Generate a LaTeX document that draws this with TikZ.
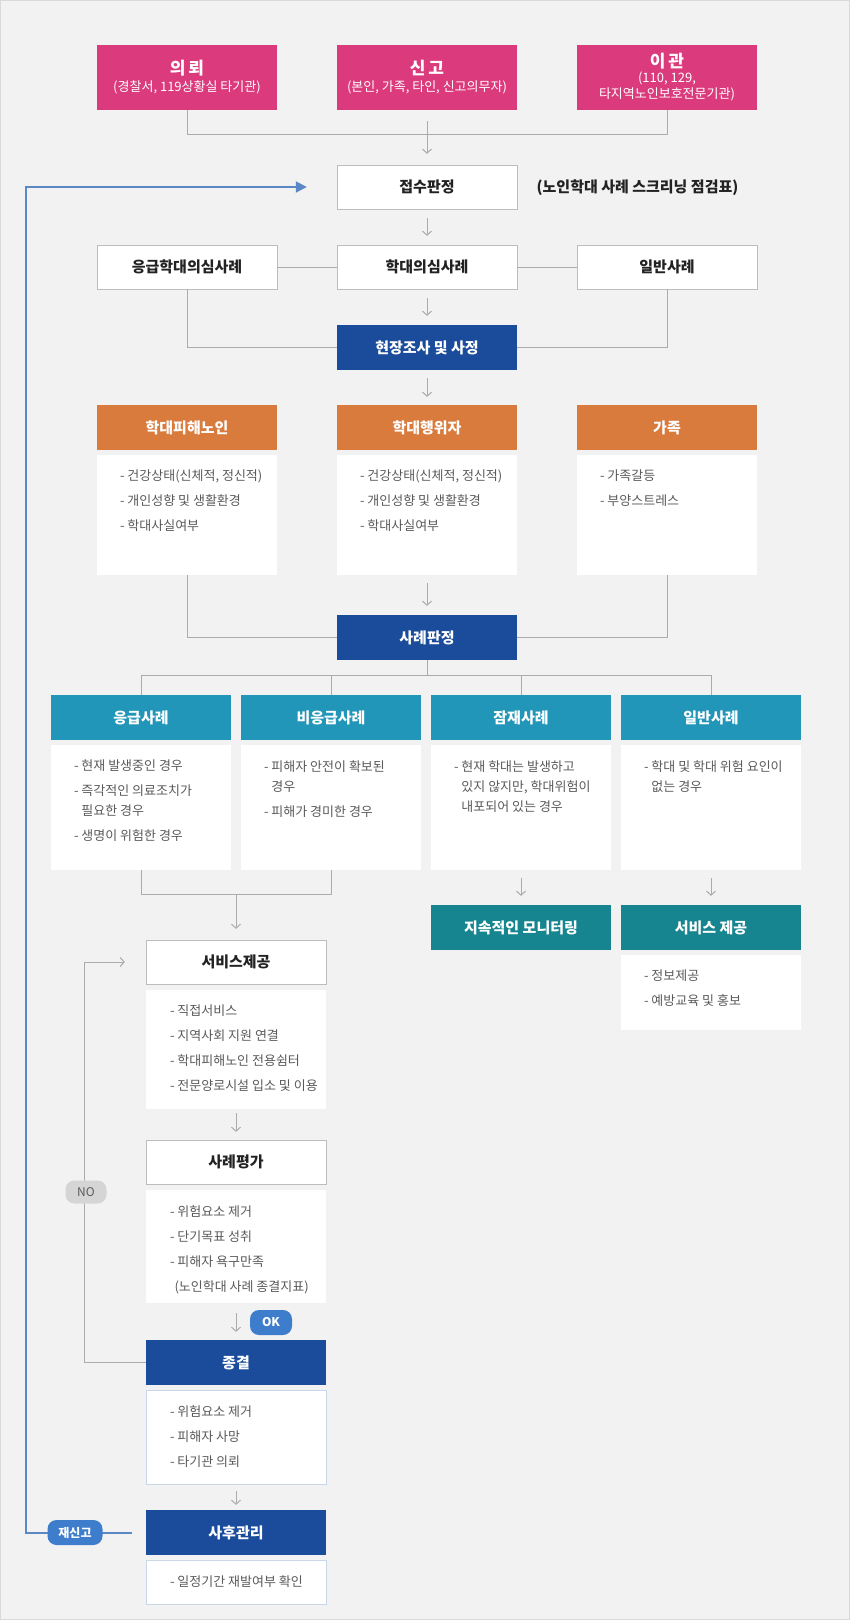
\documentclass[tikz,border=0pt]{standalone}
\usepackage{fontspec}
\setmainfont{Noto Sans CJK KR}
\usepackage{xcolor}
\usetikzlibrary{arrows.meta,calc}
\definecolor{bgc}{HTML}{F2F2F2}
\definecolor{framec}{HTML}{D9D9D9}
\definecolor{pinkc}{HTML}{DB3A7D}
\definecolor{orangec}{HTML}{D97B3D}
\definecolor{navyc}{HTML}{1A4C9B}
\definecolor{tealc}{HTML}{2196B9}
\definecolor{dtealc}{HTML}{16858F}
\definecolor{badgec}{HTML}{3E7DCB}
\definecolor{retc}{HTML}{5A88C6}
\definecolor{lngray}{HTML}{ABABAB}
\definecolor{nogray}{HTML}{D5D5D5}
\definecolor{boxline}{HTML}{BDBDBD}
\definecolor{cardblue}{HTML}{CAD7E8}
\definecolor{txtgray}{HTML}{5A5A5A}
\definecolor{txtdark}{HTML}{222222}

\begin{document}
\begin{tikzpicture}[x=1pt,y=-1pt,
    lbl/.style={draw=boxline,fill=white,minimum width=180pt,minimum height=44pt,inner sep=0pt,
      text=txtdark,font=\bfseries\fontsize{15}{17}\selectfont},
    hdr/.style={fill=#1,minimum width=180pt,minimum height=45pt,inner sep=0pt,align=center,
      text=white,font=\bfseries\fontsize{15}{17}\selectfont},
    src/.style={hdr=pinkc,minimum height=65pt},
    sub/.style={},
    card/.style={fill=white,minimum width=180pt,minimum height=#1,inner sep=0pt,anchor=north},
    items/.style={anchor=north west,inner sep=0pt,align=left,text=txtgray,
      font=\fontsize{13}{20}\selectfont},
    ln/.style={draw=lngray,line width=1pt},
    arr/.style={ln,-{Straight Barb[length=4pt,width=9pt]}},
    ret/.style={draw=retc,line width=2pt,-{Triangle[length=11pt,width=11pt]}},
    badge/.style={fill=#1,rounded corners=9pt,minimum width=42pt,minimum height=25pt,inner sep=0pt,
      text=white,font=\bfseries\fontsize{12}{14}\selectfont}]
    \fill[bgc] (0,0) rectangle (850,1620);
    \draw[framec] (0.5,0.5) rectangle (849.5,1619.5);
    % sources
    \node[src] (req) at (187,77.5) {{\fontsize{17}{19}\selectfont 의\,뢰}\\[0pt]
      {\mdseries\fontsize{13}{15}\selectfont (경찰서, 119상황실 타기관)}};
    \node[src] (rep) at (427,77.5) {{\fontsize{17}{19}\selectfont 신\,고}\\[0pt]
      {\mdseries\fontsize{13}{15}\selectfont (본인, 가족, 타인, 신고의무자)}};
    \node[src] (trn) at (667,77.5) {{\fontsize{17}{19}\selectfont 이\,관}\\[-2pt]
      {\mdseries\fontsize{13}{15}\selectfont (110, 129,}\\[-1pt]
      {\mdseries\fontsize{13}{15}\selectfont 타지역노인보호전문기관)}};
    \draw[ln] (req.south) -- ++(0,24) -| (trn.south);
    % intake
    \node[lbl] (intake) at (427,187) {접수판정};
    \node[text=txtdark,font=\bfseries\fontsize{15}{17}\selectfont] (note) at (637.5,188)
      {(노인학대 사례 스크리닝 점검표)};
    \draw[arr,shorten <=11pt,shorten >=11pt] (rep) -- (intake);
    \node[lbl] (sus1) at (187,267) {응급학대의심사례};
    \node[lbl] (sus2) at (427,267) {학대의심사례};
    \node[lbl] (sus3) at (667,267) {일반사례};
    \draw[arr,shorten <=9pt,shorten >=9pt] (intake) -- (sus2);
    \draw[ln] (sus1) -- (sus2);
    \draw[ln] (sus2) -- (sus3);
    \node[hdr=navyc] (survey) at (427,347.5) {현장조사 및 사정};
    \draw[arr,shorten <=9pt,shorten >=9pt] (sus2) -- (survey);
    \draw[ln] (sus1.south) |- (survey.west);
    \draw[ln] (sus3.south) |- (survey.east);
    % assessment
    \node[hdr=orangec] (vic) at (187,427.5) {학대피해노인};
    \node[hdr=orangec] (abu) at (427,427.5) {학대행위자};
    \node[hdr=orangec] (fam) at (667,427.5) {가족};
    \draw[arr,shorten <=8pt,shorten >=8pt] (survey) -- (abu);
    \node[card=120pt] (vicC) at (187,455) {};
    \node[card=120pt] (abuC) at (427,455) {};
    \node[card=120pt] (famC) at (667,455) {};
    \foreach \c in {vicC,abuC}{
      \node[items] at ([xshift=23pt,yshift=-15pt]\c.north west)
        {- 건강상태(신체적, 정신적)\\[5pt]- 개인성향 및 생활환경\\[5pt]- 학대사실여부};}
    \node[items] (famT) at ([xshift=23pt,yshift=-15pt]famC.north west) {- 가족갈등\\[5pt]- 부양스트레스};
    \node[hdr=navyc] (judge) at (427,637.5) {사례판정};
    \draw[arr,shorten <=8pt,shorten >=9pt] (abuC) -- (judge);
    \draw[ln] (vicC.south) |- (judge.west);
    \draw[ln] (famC.south) |- (judge.east);
    % case types
    \node[hdr=tealc] (c1) at (141,717.5) {응급사례};
    \node[hdr=tealc] (c2) at (331,717.5) {비응급사례};
    \node[hdr=tealc] (c3) at (521,717.5) {잠재사례};
    \node[hdr=tealc] (c4) at (711,717.5) {일반사례};
    \draw[ln] (judge.south) -- ++(0,15) coordinate (split);
    \foreach \c in {c1,c2,c3,c4}{\draw[ln] (\c.north) |- (split);}
    \foreach \c in {c1,c2,c3,c4}{\node[card=125pt] (\c C) at (\c.south|-0,745) {};}
    \node[items] (c1T) at ([xshift=23pt,yshift=-15pt]c1C.north west)
      {- 현재 발생중인 경우\\[5pt]- 즉각적인 의료조치가\\\phantom{- }필요한 경우\\[5pt]- 생명이 위험한 경우};
    \node[items] (c2T) at ([xshift=23pt,yshift=-15pt]c2C.north west)
      {- 피해자 안전이 확보된\\\phantom{- }경우\\[5pt]- 피해가 경미한 경우};
    \node[items] (c3T) at ([xshift=23pt,yshift=-15pt]c3C.north west)
      {- 현재 학대는 발생하고\\\phantom{- }있지 않지만, 학대위험이\\\phantom{- }내포되어 있는 경우};
    \node[items] (c4T) at ([xshift=23pt,yshift=-15pt]c4C.north west)
      {- 학대 및 학대 위험 요인이\\\phantom{- }없는 경우};
    % monitoring and service
    \node[hdr=dtealc] (monit) at (521,927.5) {지속적인 모니터링};
    \node[hdr=dtealc] (serv2) at (711,927.5) {서비스 제공};
    \draw[arr,shorten <=8pt,shorten >=9pt] (c3C) -- (monit);
    \draw[arr,shorten <=8pt,shorten >=9pt] (c4C) -- (serv2);
    \node[card=75pt] (serv2C) at (711,955) {};
    \node[items] (serv2T) at ([xshift=23pt,yshift=-15pt]serv2C.north west) {- 정보제공\\[5pt]- 예방교육 및 홍보};
    \node[lbl] (serv) at (236,962) {서비스제공};
    \draw[ln] (c1C.south) -- ++(0,24) coordinate (mrg) -| (c2C.south);
    \draw[arr,shorten >=11pt] (mrg-|serv.north) -- (serv.north);
    \node[card=119pt] (servC) at (236,990) {};
    \node[items] (servT) at ([xshift=24pt,yshift=-15pt]servC.north west)
      {- 직접서비스\\[5pt]- 지역사회 지원 연결\\[5pt]- 학대피해노인 전용쉼터\\[5pt]- 전문양로시설 입소 및 이용};
    \node[lbl] (eval) at (236,1162) {사례평가};
    \draw[arr,shorten <=4pt,shorten >=8pt] (servC) -- (eval);
    \node[card=113pt] (evalC) at (236,1190) {};
    \node[items] (evalT) at ([xshift=24pt,yshift=-15pt]evalC.north west)
      {- 위험요소 제거\\[5pt]- 단기목표 성취\\[5pt]- 피해자 욕구만족\\[5pt]\phantom{-}(노인학대 사례 종결지표)};
    % closing
    \node[hdr=navyc] (close) at (236,1362.5) {종결};
    \draw[arr,shorten <=10pt,shorten >=8pt] (evalC) -- (close);
    \node[badge=badgec] (ok) at (271,1322.5) {OK};
    \node[card=94pt,draw=cardblue] (closeC) at (236,1390) {};
    \node[items] (closeT) at ([xshift=24pt,yshift=-15pt]closeC.north west)
      {- 위험요소 제거\\[5pt]- 피해자 사망\\[5pt]- 타기관 의뢰};
    \draw[arr] (close.west) -- ++(-61,0) |- ([xshift=-21pt]serv.west);
    \node[badge=nogray,text=txtgray,font=\fontsize{12}{14}\selectfont,minimum width=41pt,minimum height=23pt]
      (no) at (86,1192) {NO};
    \node[hdr=navyc] (after) at (236,1532.5) {사후관리};
    \draw[arr,shorten <=7pt,shorten >=5pt] (closeC) -- (after);
    \node[card=44pt,draw=cardblue] (afterC) at (236,1560) {};
    \node[items] (afterT) at ([xshift=24pt,yshift=-15pt]afterC.north west) {- 일정기간 재발여부 확인};
    % report again
    \draw[ret] ([xshift=-14pt]after.west) -- ++(-106,0) |- ([xshift=-30pt]intake.west);
    \node[badge=badgec,minimum width=55pt] (again) at (75,1532.5) {재신고};
\end{tikzpicture}
\end{document}
